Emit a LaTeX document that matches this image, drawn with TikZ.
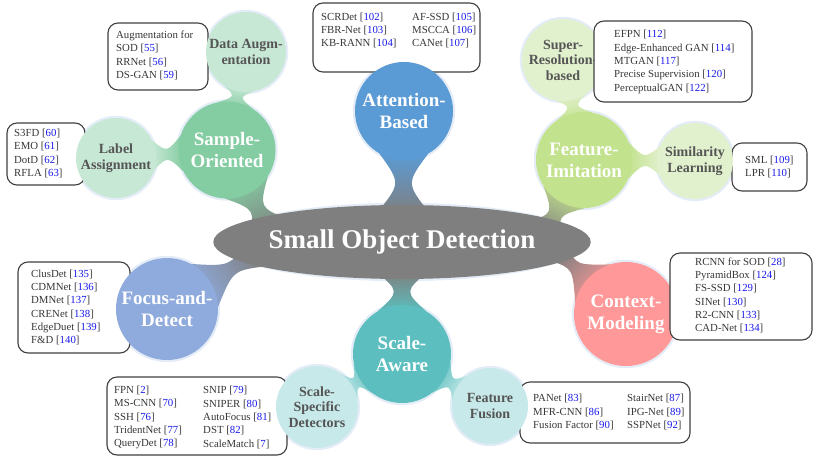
\documentclass[tikz,border=0pt]{standalone}
\usepackage{fontspec}
\setmainfont{Liberation Serif}
\usetikzlibrary{calc,shapes.geometric}

\definecolor{refblue}{RGB}{25,25,235}
\definecolor{boxtext}{RGB}{55,55,55}
\definecolor{boxframe}{RGB}{64,64,64}
\definecolor{subtext}{RGB}{85,85,85}
\definecolor{sodgray}{RGB}{127,127,127}
\definecolor{attblue}{RGB}{91,155,213}
\definecolor{sampgreen}{RGB}{132,204,162}
\definecolor{samplight}{RGB}{200,232,214}
\definecolor{featgreen}{RGB}{195,226,142}
\definecolor{featlight}{RGB}{225,240,205}
\definecolor{ctxred}{RGB}{255,152,152}
\definecolor{focblue}{RGB}{143,170,220}
\definecolor{scalteal}{RGB}{92,190,190}
\definecolor{scallight}{RGB}{200,233,233}
\definecolor{haloc}{RGB}{228,237,247}

\pgfdeclarelayer{halos}
\pgfdeclarelayer{necks}
\pgfdeclarelayer{lowboxes}
\pgfdeclarelayer{topboxes}
\pgfsetlayers{halos,necks,lowboxes,main,topboxes}

% reference number in brackets
\newcommand\rf[1]{[\textcolor{refblue}{#1}]}

% tapered bridge between two round shapes:
% from, radius, to, radius, colour at from, colour at to, waist offset, spread angle
\newcommand\neck[8]{%
  \path (#1); \pgfgetlastxy{\nkax}{\nkay}
  \path (#3); \pgfgetlastxy{\nkbx}{\nkby}
  \pgfmathsetmacro\nkang{atan2(\nkby-\nkay,\nkbx-\nkax)-90}
  \coordinate (nkEA) at ($(#1)!#2!(#3)$);
  \coordinate (nkEB) at ($(#3)!#4!(#1)$);
  \coordinate (nkM) at ($(nkEA)!.5!(nkEB)$);
  \coordinate (nkCa) at ($(nkM)!#7!90:(#3)$);
  \coordinate (nkCb) at ($(nkM)!#7!-90:(#3)$);
  \shade[bottom color=#5, top color=#6, shading angle=\nkang]
    ($(#1)!#2!#8:(#3)$) .. controls (nkCa) and (nkCa) .. ($(#3)!#4!-#8:(#1)$)
    -- ($(#3)!#4!#8:(#1)$) .. controls (nkCb) and (nkCb) .. ($(#1)!#2!-#8:(#3)$) -- cycle;
}

\tikzset{
  sodnode/.style={ellipse, fill=sodgray, inner sep=0pt, minimum width=364pt, minimum height=74pt,
    text=white, font=\fontsize{27}{30}\selectfont\bfseries},
  maincirc/.style={circle, inner sep=0pt, text=white, align=center,
    font=\fontsize{19}{22}\selectfont\bfseries},
  subcirc/.style={circle, inner sep=0pt, text=subtext, align=center,
    font=\fontsize{14}{15.5}\selectfont\bfseries},
  refbox/.style={rectangle, draw=boxframe, line width=1.1pt, rounded corners=10pt, fill=white, inner sep=0pt},
  reftext/.style={anchor=west, align=left, text=boxtext, inner sep=0pt,
    font=\fontsize{10.8}{13.3}\selectfont},
}

\begin{document}
\begin{tikzpicture}[x=1pt,y=-1pt]
\useasboundingbox (0,0) rectangle (818,460);

% centre
\node[sodnode] (sod) at (402,242) {Small Object Detection};

% main branches
\node[maincirc, fill=attblue,    minimum size=98pt]  (att)  at (404,111) {Attention-\\Based};
\node[maincirc, fill=sampgreen,  minimum size=97pt]  (samp) at (227,150) {Sample-\\Oriented};
\node[maincirc, fill=featgreen,  minimum size=96pt]  (feat) at (584,160) {Feature-\\Imitation};
\node[maincirc, fill=ctxred,     minimum size=104pt] (ctx)  at (626,314) {Context-\\Modeling};
\node[maincirc, fill=focblue,    minimum size=102pt] (foc)  at (167,309) {Focus-and-\\Detect};
\node[maincirc, fill=scalteal,   minimum size=98pt]  (scal) at (402,354) {Scale-\\Aware};

% sub branches
\node[subcirc, fill=samplight, minimum size=80pt] (da)   at (246,52)  {Data Augm-\\entation};
\node[subcirc, fill=samplight, minimum size=80pt] (la)   at (116,158) {Label\\Assignment};
\node[subcirc, fill=featlight, minimum size=82pt] (sr)   at (563,60)  {Super-\\Resolution-\\based};
\node[subcirc, fill=featlight, minimum size=76pt] (sim)  at (695,161) {Similarity\\Learning};
\node[subcirc, fill=scallight, minimum size=82pt] (spec) at (317,407) {Scale-\\Specific\\Detectors};
\node[subcirc, fill=scallight, minimum size=76pt] (fus)  at (490,406) {Feature\\Fusion};

% soft light rim around every round shape
\begin{pgfonlayer}{halos}
  \foreach \nd/\rad in {att/49, samp/48.5, feat/48, ctx/52, foc/51, scal/49,
                        da/40, la/40, sr/41, sim/38, spec/41, fus/38}
    \fill[haloc] (\nd) circle[radius=\rad pt+2.2pt];
  \fill[haloc] (sod) ellipse[x radius=184.2pt, y radius=39.2pt];
\end{pgfonlayer}

% anchor points inside the centre ellipse
\coordinate (vAtt)  at (403,262);
\coordinate (vSamp) at (285,262);
\coordinate (vFeat) at (530,262);
\coordinate (vCtx)  at (545,240);
\coordinate (vFoc)  at (280,238);
\coordinate (vScal) at (402,225);

\begin{pgfonlayer}{necks}
  \neck{att}{49pt}{vAtt}{55pt}{attblue}{sodgray}{2.5pt}{30}
  \neck{samp}{48.5pt}{vSamp}{43pt}{sampgreen}{sodgray}{2.5pt}{30}
  \neck{feat}{48pt}{vFeat}{40pt}{featgreen}{sodgray}{2.5pt}{30}
  \neck{ctx}{52pt}{vCtx}{22pt}{ctxred}{sodgray}{2.5pt}{30}
  \neck{foc}{51pt}{vFoc}{32pt}{focblue}{sodgray}{2.5pt}{30}
  \neck{scal}{49pt}{vScal}{53pt}{scalteal}{sodgray}{2.5pt}{30}
  \neck{samp}{48.5pt}{da}{40pt}{sampgreen}{samplight}{2pt}{22}
  \neck{samp}{48.5pt}{la}{40pt}{sampgreen}{samplight}{2pt}{22}
  \neck{feat}{48pt}{sr}{41pt}{featgreen}{featlight}{2pt}{22}
  \neck{feat}{48pt}{sim}{38pt}{featgreen}{featlight}{2pt}{22}
  \neck{scal}{49pt}{spec}{41pt}{scalteal}{scallight}{2pt}{22}
  \neck{scal}{49pt}{fus}{38pt}{scalteal}{scallight}{2pt}{22}
\end{pgfonlayer}

% reference boxes lying under the circles
\begin{pgfonlayer}{lowboxes}
  \node[refbox, minimum width=100pt, minimum height=67pt] (daBox) at (158,56.5) {};
  \node[reftext] (daTxt) at (116,55.5) {Augmentation for\\SOD \rf{55}\\RRNet \rf{56}\\DS-GAN \rf{59}};

  \node[refbox, minimum width=78pt, minimum height=62pt] (laBox) at (46,154) {};
  \node[reftext] (laTxt) at (14,153.5) {S3FD \rf{60}\\EMO \rf{61}\\DotD \rf{62}\\RFLA \rf{63}};

  \node[refbox, minimum width=167pt, minimum height=69pt] (attBox) at (396.5,37.5) {};
  \node[reftext] (attTxtA) at (321,30.5) {SCRDet \rf{102}\\FBR-Net \rf{103}\\KB-RANN \rf{104}};
  \node[reftext] (attTxtB) at (412,30.5) {AF-SSD \rf{105}\\MSCCA \rf{106}\\CANet \rf{107}};

  \node[refbox, minimum width=75pt, minimum height=48pt] (simBox) at (769.5,167) {};
  \node[reftext] (simTxt) at (745,167) {SML \rf{109}\\LPR \rf{110}};

  \node[refbox, minimum width=112pt, minimum height=91pt] (focBox) at (74,307.5) {};
  \node[reftext] (focTxt) at (31,307.5) {ClusDet \rf{135}\\CDMNet \rf{136}\\DMNet \rf{137}\\CRENet \rf{138}\\EdgeDuet \rf{139}\\F\&D \rf{140}};

  \node[refbox, minimum width=180pt, minimum height=78pt] (specBox) at (197,416) {};
  \node[reftext] (specTxtA) at (114,417.5) {FPN \rf{2}\\MS-CNN \rf{70}\\SSH \rf{76}\\TridentNet \rf{77}\\QueryDet \rf{78}};
  \node[reftext] (specTxtB) at (203,417.5) {SNIP \rf{79}\\SNIPER \rf{80}\\AutoFocus \rf{81}\\DST \rf{82}\\ScaleMatch \rf{7}};

  \node[refbox, minimum width=170pt, minimum height=61pt] (fusBox) at (605,412.5) {};
  \node[reftext] (fusTxtA) at (533,412) {PANet \rf{83}\\MFR-CNN \rf{86}\\Fusion Factor \rf{90}};
  \node[reftext] (fusTxtB) at (627,412) {StairNet \rf{87}\\IPG-Net \rf{89}\\SSPNet \rf{92}};
\end{pgfonlayer}

% reference boxes lying over the circles
\begin{pgfonlayer}{topboxes}
  \node[refbox, minimum width=158pt, minimum height=81pt] (srBox) at (673,61.5) {};
  \node[reftext] (srTxt) at (614,62) {EFPN \rf{112}\\Edge-Enhanced GAN \rf{114}\\MTGAN \rf{117}\\Precise Supervision \rf{120}\\PerceptualGAN \rf{122}};

  \node[refbox, minimum width=142pt, minimum height=87pt] (ctxBox) at (741,296.5) {};
  \node[reftext] (ctxTxt) at (695,295.5) {RCNN for SOD \rf{28}\\PyramidBox \rf{124}\\FS-SSD \rf{129}\\SINet \rf{130}\\R2-CNN \rf{133}\\CAD-Net \rf{134}};
\end{pgfonlayer}
\end{tikzpicture}
\end{document}
